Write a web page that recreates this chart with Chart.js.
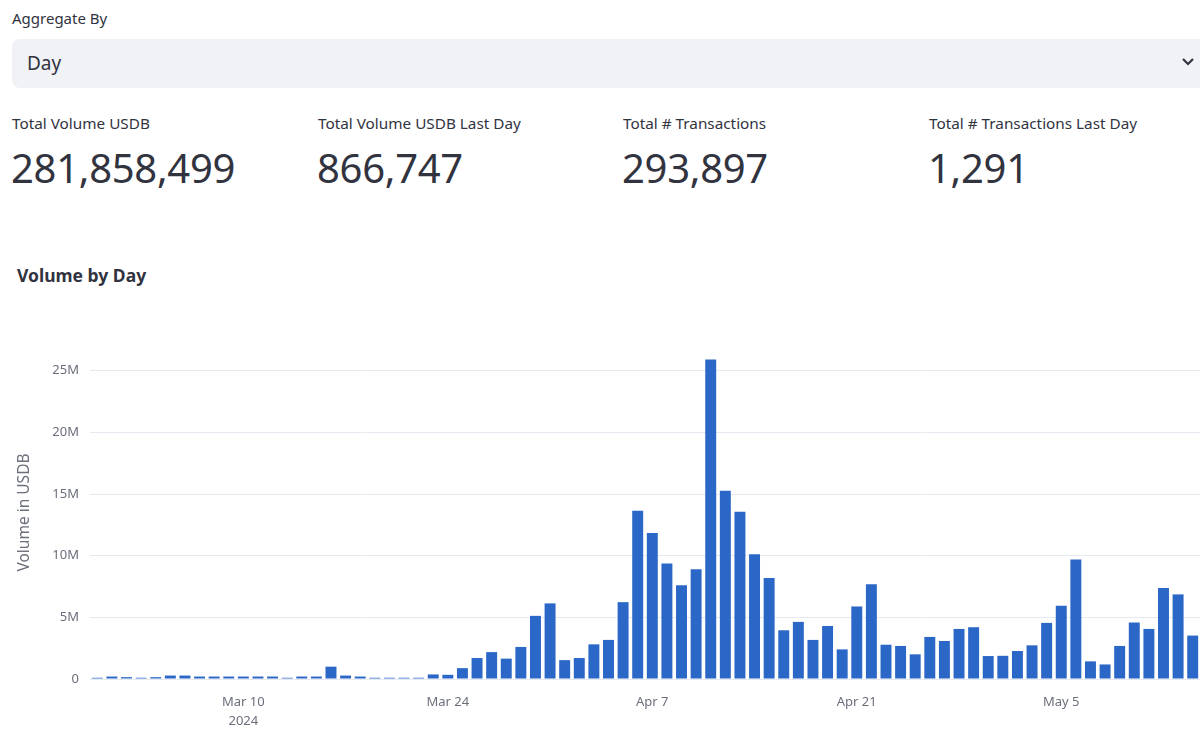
<!DOCTYPE html>
<html>
<head>
<meta charset="utf-8">
<script src="https://cdn.jsdelivr.net/npm/chart.js@4.4.1/dist/chart.umd.min.js"></script>
<style>
html,body{margin:0;padding:0;background:#fff;width:1200px;height:731px;overflow:hidden;font-family:"Noto Sans",sans-serif;color:#31333f;}
.abs{position:absolute;white-space:nowrap;}
#agg{left:12px;top:8px;font-size:15px;}
#sel{left:12px;top:39px;width:1220px;height:49px;background:#f0f2f6;border-radius:8px;}
#sel span{position:absolute;left:15px;top:11px;font-size:19px;}
#chev{left:1181px;top:57px;}
.ml{font-size:15.3px;top:113px;}
.mv{font-size:40px;top:140px;letter-spacing:-0.3px;}
#title{left:17px;top:263px;font-size:17.5px;font-weight:700;}
#wrap{left:0;top:300px;width:1200px;height:431px;}
</style>
</head>
<body>
<div class="abs" id="agg">Aggregate By</div>
<div class="abs" id="sel"><span>Day</span></div>
<svg class="abs" id="chev" width="14" height="10" viewBox="0 0 14 10"><polyline points="2,2 7,7 12,2" fill="none" stroke="#31333f" stroke-width="2.2"/></svg>
<div class="abs ml" style="left:12px">Total Volume USDB</div>
<div class="abs ml" style="left:318px">Total Volume USDB Last Day</div>
<div class="abs ml" style="left:623px">Total # Transactions</div>
<div class="abs ml" style="left:929px">Total # Transactions Last Day</div>
<div class="abs mv" style="left:11px">281,858,499</div>
<div class="abs mv" style="left:317px">866,747</div>
<div class="abs mv" style="left:622px">293,897</div>
<div class="abs mv" style="left:928px">1,291</div>
<div class="abs" id="title">Volume by Day</div>
<div class="abs" id="wrap"><canvas id="c" width="1200" height="431"></canvas></div>
<script>
const days = [
 "2024-02-29","2024-03-01","2024-03-02","2024-03-03","2024-03-04","2024-03-05","2024-03-06","2024-03-07","2024-03-08","2024-03-09",
 "2024-03-10","2024-03-11","2024-03-12","2024-03-13","2024-03-14","2024-03-15","2024-03-16","2024-03-17","2024-03-18","2024-03-19",
 "2024-03-20","2024-03-21","2024-03-22","2024-03-23","2024-03-24","2024-03-25","2024-03-26","2024-03-27","2024-03-28","2024-03-29",
 "2024-03-30","2024-03-31","2024-04-01","2024-04-02","2024-04-03","2024-04-04","2024-04-05","2024-04-06","2024-04-07","2024-04-08",
 "2024-04-09","2024-04-10","2024-04-11","2024-04-12","2024-04-13","2024-04-14","2024-04-15","2024-04-16","2024-04-17","2024-04-18",
 "2024-04-19","2024-04-20","2024-04-21","2024-04-22","2024-04-23","2024-04-24","2024-04-25","2024-04-26","2024-04-27","2024-04-28",
 "2024-04-29","2024-04-30","2024-05-01","2024-05-02","2024-05-03","2024-05-04","2024-05-05","2024-05-06","2024-05-07","2024-05-08",
 "2024-05-09","2024-05-10","2024-05-11","2024-05-12","2024-05-13","2024-05-14"
];
// daily volume, millions of USDB
const volumeM = [
 0.10,0.20,0.15,0.10,0.15,0.28,0.28,0.20,0.20,0.20,
 0.20,0.20,0.20,0.10,0.20,0.20,1.00,0.28,0.20,0.10,
 0.10,0.10,0.10,0.37,0.34,0.88,1.70,2.18,1.65,2.60,
 5.12,6.13,1.53,1.70,2.81,3.17,6.23,13.65,11.83,9.36,
 7.60,8.90,25.90,15.26,13.57,10.12,8.19,3.95,4.63,3.17,
 4.30,2.40,5.88,7.68,2.78,2.68,2.00,3.41,3.08,4.06,
 4.20,1.86,1.88,2.27,2.73,4.55,5.94,9.68,1.43,1.18,
 2.68,4.58,4.06,7.38,6.86,3.52
];
const tickDays = ["2024-03-10","2024-03-24","2024-04-07","2024-04-21","2024-05-05"];
const tickText = [["Mar 10","2024"],"Mar 24","Apr 7","Apr 21","May 5"];
const yTicks = [0,5,10,15,20,25];
const axisFont = {family:"Noto Sans", size:13, lineHeight:1.45};
const axisColor = "#6b6e7b";

new Chart(document.getElementById('c'), {
  type: 'bar',
  data: {
    labels: days,
    datasets: [{
      data: volumeM,
      backgroundColor: '#2b67c6',
      barPercentage: 0.75,
      categoryPercentage: 1.0
    }]
  },
  options: {
    responsive: false,
    animation: false,
    layout: {padding: {left: 12, top: 46, right: 0, bottom: 0}},
    plugins: {legend: {display: false}, tooltip: {enabled: false}},
    scales: {
      x: {
        grid: {display: false},
        border: {display: false},
        ticks: {
          autoSkip: false, maxRotation: 0, minRotation: 0, padding: 6,
          color: axisColor, font: axisFont,
          callback: function(v, i) { const k = tickDays.indexOf(days[i]); return k < 0 ? '' : tickText[k]; }
        },
        afterFit: function(s) { s.height = 52; }
      },
      y: {
        min: 0, max: 27,
        grid: {color: '#e6e9ef', drawTicks: false},
        border: {display: false},
        ticks: {
          padding: 11, color: axisColor, font: axisFont,
          callback: function(v) { return v === 0 ? '0' : v + 'M'; }
        },
        afterBuildTicks: function(s) { s.ticks = yTicks.map(function(v){ return {value: v}; }); },
        afterFit: function(s) { s.width = 78; },
        title: {display: true, text: 'Volume in USDB', color: axisColor, font: {family: "Noto Sans", size: 15.5}, padding: {top: 3, bottom: 4}}
      }
    }
  }
});
</script>
</body>
</html>
